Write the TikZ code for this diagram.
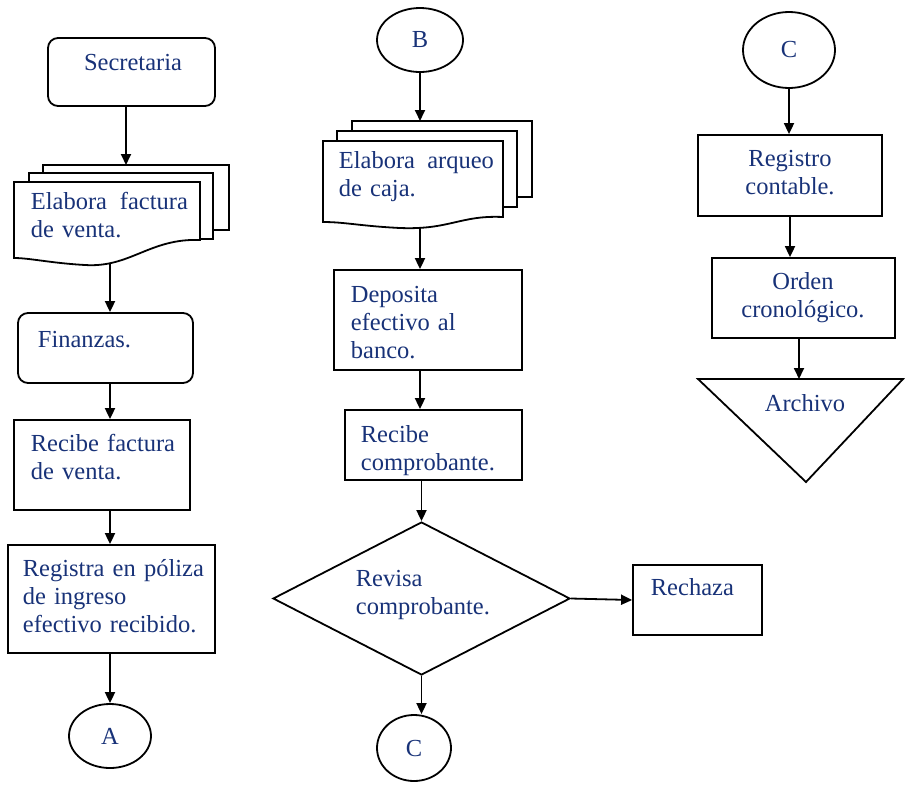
\documentclass[tikz,border=0pt]{standalone}
\usepackage{fontspec}
\setmainfont{Liberation Serif}
\usetikzlibrary{shapes.geometric,arrows.meta}
\definecolor{azultxt}{RGB}{24,50,120}

\begin{document}
\begin{tikzpicture}[x=1pt,y=-1pt,line width=1.8pt,
	every node/.style={font=\fontsize{24.5}{28}\selectfont, text=azultxt},
	paso/.style={draw, rectangle, inner sep=0pt},
	redondo/.style={paso, rounded corners=10pt},
	conector/.style={draw, ellipse, inner sep=0pt},
	texto/.style={inner sep=0pt, align=left},
	flecha/.style={-{Triangle[length=11pt,width=10pt]}}]
				\useasboundingbox (0,0) rectangle (905,788);
				% primera columna
				\node[redondo, minimum width=167pt, minimum height=68pt] (secre) at (131.5,72) {};
				\node[texto, anchor=base] (tsecre) at (133,70) {Secretaria};
				\draw (43,173) -- (43,165) -- (229,165) -- (229,230) -- (213,230);
				\draw (29,182) -- (29,173) -- (213,173) -- (213,239) -- (200,239);
				\draw (14,182) -- (200,182) -- (200,240) .. controls (150,238) and (130,268) .. (85,265) .. controls (50,263) and (30,258) .. (14,258) -- cycle;
				\coordinate (d1in) at (126,165);
				\coordinate (d1out) at (110,263);
				\node[texto, anchor=base west, text width=157pt] (tdoc1) at (30,209) {Elabora\hfill factura\\de venta.};
				\node[redondo, minimum width=175pt, minimum height=70pt] (fin) at (105.5,348) {};
				\node[texto, anchor=base west] (tfin) at (37,347) {Finanzas.};
				\node[paso, minimum width=176pt, minimum height=90pt] (recibe) at (102,465) {};
				\node[texto, anchor=base west, text width=160pt] (trecibe) at (30,451) {Recibe factura\\de venta.};
				\node[paso, minimum width=207pt, minimum height=108pt] (registra) at (111.5,599) {};
				\node[texto, anchor=base west, text width=185pt] (tregistra) at (22,576) {Registra en póliza\\de ingreso\\efectivo recibido.};
				\node[conector, minimum width=82pt, minimum height=64pt] (A) at (110,736) {A};
				\draw[flecha] (secre.south -| d1in) -- (d1in);
				\draw[flecha] (d1out) -- (d1out |- fin.north);
				\draw[flecha] (fin.south -| d1out) -- (recibe.north -| d1out);
				\draw[flecha] (recibe.south -| d1out) -- (registra.north -| d1out);
				\draw[flecha] (registra.south -| A.north) -- (A.north);
				% segunda columna
				\node[conector, minimum width=86pt, minimum height=64pt] (B) at (420,40) {B};
				\draw (352,131) -- (352,121) -- (532,121) -- (532,197) -- (517,197);
				\draw (337,141) -- (337,131) -- (517,131) -- (517,207) -- (503,207);
				\draw (323,141) -- (503,141) -- (503,217) .. controls (460,215) and (450,230) .. (400,228) .. controls (360,226) and (345,222) .. (323,222) -- cycle;
				\coordinate (d2in) at (420,121);
				\coordinate (d2out) at (420,228);
				\node[texto, anchor=base west, text width=155pt] (tdoc2) at (338,168) {Elabora\hfill arqueo\\de caja.};
				\node[paso, minimum width=188pt, minimum height=100pt] (deposita) at (428,320) {};
				\node[texto, anchor=base west, text width=160pt] (tdeposita) at (350,302) {Deposita\\efectivo al\\banco.};
				\node[paso, minimum width=177pt, minimum height=70pt] (recibe2) at (433.5,445) {};
				\node[texto, anchor=base west, text width=150pt] (trecibe2) at (360,442) {Recibe\\comprobante.};
				\node[draw, diamond, minimum width=297pt, minimum height=153pt, inner sep=0pt] (revisa) at (421.5,598.5) {};
				\node[texto, anchor=base west, text width=150pt] (trevisa) at (355,586) {Revisa\\comprobante.};
				\node[paso, minimum width=129pt, minimum height=70pt] (rechaza) at (697.5,600) {};
				\node[texto, anchor=base west] (trechaza) at (650,595) {Rechaza};
				\node[conector, minimum width=74pt, minimum height=66pt] (C1) at (414,748) {C};
				\draw[flecha] (B.south) -- (d2in);
				\draw[flecha] (d2out) -- (d2out |- deposita.north);
				\draw[flecha] (deposita.south -| d2out) -- (recibe2.north -| d2out);
				\draw[flecha] (recibe2.south -| revisa.north) -- (revisa.north);
				\draw[flecha] (revisa.east) -- (rechaza.west);
				\draw[flecha] (revisa.south) -- (revisa.south |- C1.north);
				% tercera columna
				\node[conector, minimum width=92pt, minimum height=76pt] (C2) at (789,50) {C};
				\node[paso, minimum width=184pt, minimum height=81pt] (contable) at (790,175.5) {};
				\node[texto, anchor=base, align=center, text width=170pt] (tcontable) at (790,166) {Registro\\contable.};
				\node[paso, minimum width=183pt, minimum height=80pt] (orden) at (803.5,298) {};
				\node[texto, anchor=base, align=center, text width=170pt] (torden) at (803,289) {Orden\\cronológico.};
				\draw (698,379) -- (903,379) -- (806,482) -- cycle;
				\coordinate (archivo) at (799,379);
				\node[texto, anchor=base] (tarchivo) at (805,411) {Archivo};
				\draw[flecha] (C2.south) -- (C2.south |- contable.north);
				\draw[flecha] (contable.south) -- (contable.south |- orden.north);
				\draw[flecha] (orden.south -| archivo) -- (archivo);
			\end{tikzpicture}
\end{document}
